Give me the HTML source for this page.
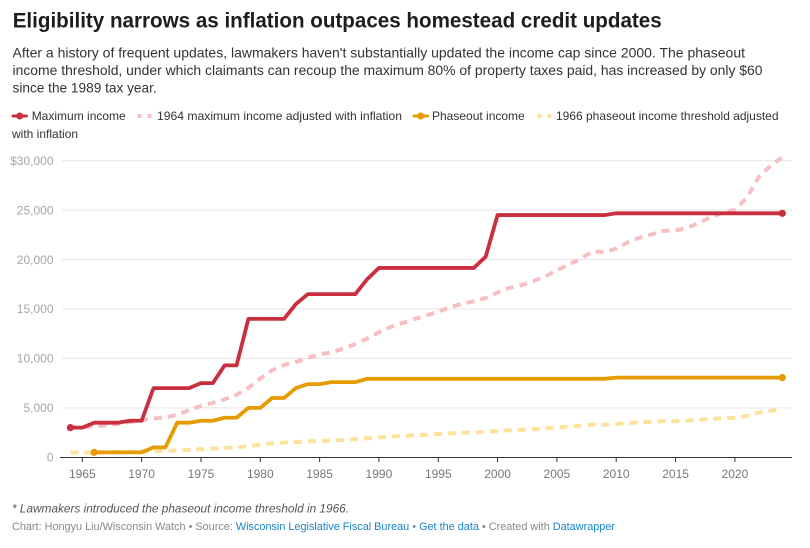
<!DOCTYPE html>
<html>
<head>
<meta charset="utf-8">
<style>
  html,body{margin:0;padding:0;background:#fff;}
  svg{display:block;}
  text{font-family:"Liberation Sans", Arial, sans-serif;}
</style>
</head>
<body>
<svg width="810" height="548" viewBox="0 0 810 548" xmlns="http://www.w3.org/2000/svg">
  <rect x="0" y="0" width="810" height="548" fill="#ffffff"/>

  <!-- Title -->
  <text x="12.7" y="27.3" font-size="21" font-weight="bold" fill="#1d1d1d" textLength="649" lengthAdjust="spacingAndGlyphs">Eligibility narrows as inflation outpaces homestead credit updates</text>

  <!-- Subtitle -->
  <text x="12.5" y="57.3" font-size="14" fill="#333" textLength="732.5" lengthAdjust="spacingAndGlyphs">After a history of frequent updates, lawmakers haven't substantially updated the income cap since 2000. The phaseout</text>
  <text x="12.5" y="74.8" font-size="14" fill="#333" textLength="750" lengthAdjust="spacingAndGlyphs">income threshold, under which claimants can recoup the maximum 80% of property taxes paid, has increased by only $60</text>
  <text x="12.5" y="92.3" font-size="14" fill="#333" textLength="144.2" lengthAdjust="spacingAndGlyphs">since the 1989 tax year.</text>

  <!-- Legend -->
  <line x1="13" y1="116" x2="26.5" y2="116" stroke="#c92f3e" stroke-width="3" stroke-linecap="round"/>
  <circle cx="19.7" cy="116" r="3.5" fill="#c92f3e"/>
  <text x="31.7" y="120.2" font-size="12" fill="#333">Maximum income</text>

  <line x1="137.5" y1="116" x2="152" y2="116" stroke="#f8bfc2" stroke-width="4" stroke-dasharray="4 6"/>
  <text x="157" y="120.2" font-size="12" fill="#333" textLength="245" lengthAdjust="spacingAndGlyphs">1964 maximum income adjusted with inflation</text>

  <line x1="414" y1="116" x2="427.5" y2="116" stroke="#e69c00" stroke-width="3" stroke-linecap="round"/>
  <circle cx="420.7" cy="116" r="3.5" fill="#e69c00"/>
  <text x="432" y="120.2" font-size="12" fill="#333">Phaseout income</text>

  <line x1="537.5" y1="116" x2="552" y2="116" stroke="#fde29c" stroke-width="4" stroke-dasharray="4 6"/>
  <text x="556" y="120.2" font-size="12" fill="#333" textLength="222.5" lengthAdjust="spacingAndGlyphs">1966 phaseout income threshold adjusted</text>
  <text x="12" y="138.2" font-size="12" fill="#333">with inflation</text>

  <!-- Gridlines -->
  <g stroke="#e5e5e5" stroke-width="1">
    <line x1="62" y1="160.7" x2="792" y2="160.7"/>
    <line x1="62" y1="210.1" x2="792" y2="210.1"/>
    <line x1="62" y1="259.6" x2="792" y2="259.6"/>
    <line x1="62" y1="309.0" x2="792" y2="309.0"/>
    <line x1="62" y1="358.4" x2="792" y2="358.4"/>
    <line x1="62" y1="407.9" x2="792" y2="407.9"/>
  </g>

  <!-- Y labels -->
  <g font-size="12" fill="#a6a6a6" text-anchor="end">
    <text x="53.5" y="164.9">$30,000</text>
    <text x="53.5" y="214.3">25,000</text>
    <text x="53.5" y="263.8">20,000</text>
    <text x="53.5" y="313.2">15,000</text>
    <text x="53.5" y="362.6">10,000</text>
    <text x="53.5" y="412.1">5,000</text>
    <text x="53.5" y="461.5">0</text>
  </g>

  <!-- Axis -->
  <line x1="60" y1="457.5" x2="792" y2="457.5" stroke="#333" stroke-width="1"/>
  <g stroke="#333" stroke-width="1">
    <line x1="82.3" y1="457.5" x2="82.3" y2="462"/>
    <line x1="141.6" y1="457.5" x2="141.6" y2="462"/>
    <line x1="201.0" y1="457.5" x2="201.0" y2="462"/>
    <line x1="260.3" y1="457.5" x2="260.3" y2="462"/>
    <line x1="319.6" y1="457.5" x2="319.6" y2="462"/>
    <line x1="378.9" y1="457.5" x2="378.9" y2="462"/>
    <line x1="438.3" y1="457.5" x2="438.3" y2="462"/>
    <line x1="497.6" y1="457.5" x2="497.6" y2="462"/>
    <line x1="556.9" y1="457.5" x2="556.9" y2="462"/>
    <line x1="616.2" y1="457.5" x2="616.2" y2="462"/>
    <line x1="675.6" y1="457.5" x2="675.6" y2="462"/>
    <line x1="734.9" y1="457.5" x2="734.9" y2="462"/>
  </g>
  <g font-size="12" fill="#777" text-anchor="middle">
    <text x="82.3" y="478">1965</text>
    <text x="141.6" y="478">1970</text>
    <text x="201.0" y="478">1975</text>
    <text x="260.3" y="478">1980</text>
    <text x="319.6" y="478">1985</text>
    <text x="378.9" y="478">1990</text>
    <text x="438.3" y="478">1995</text>
    <text x="497.6" y="478">2000</text>
    <text x="556.9" y="478">2005</text>
    <text x="616.2" y="478">2010</text>
    <text x="675.6" y="478">2015</text>
    <text x="734.9" y="478">2020</text>
  </g>

  <!-- Yellow dashed: 1966 phaseout adjusted -->
  <polyline fill="none" stroke="#fde29c" stroke-width="4" stroke-dasharray="8 6" stroke-linejoin="round"
    points="70.44,452.57 82.30,452.49 94.17,452.36 106.03,452.20 117.90,451.99 129.76,451.70 141.63,451.38 153.49,451.12 165.36,450.92 177.22,450.53 189.09,449.78 200.95,449.09 212.82,448.62 224.68,448.05 236.55,447.35 248.41,446.22 260.28,444.73 272.14,443.43 284.01,442.58 295.87,442.10 307.74,441.45 319.60,440.88 331.47,440.58 343.33,439.97 355.20,439.25 367.06,438.38 378.93,437.36 390.79,436.52 402.66,435.89 414.52,435.25 426.39,434.69 438.25,434.05 450.12,433.36 461.98,432.81 473.85,432.43 485.71,431.88 497.58,431.03 509.44,430.28 521.31,429.85 533.17,429.23 545.04,428.48 556.90,427.50 568.77,426.54 580.63,425.67 592.50,424.45 604.36,424.57 616.23,424.02 628.09,422.99 639.96,422.27 651.82,421.75 663.69,421.18 675.55,421.14 687.42,420.68 699.28,419.90 711.15,418.99 723.01,418.29 734.88,417.81 746.74,415.95 758.61,412.64 770.47,410.81 782.34,409.44"/>

  <!-- Pink dashed: 1964 max adjusted -->
  <polyline fill="none" stroke="#f8bfc2" stroke-width="4" stroke-dasharray="8 6" stroke-linejoin="round"
    points="70.44,427.64 82.30,427.16 94.17,426.30 106.03,425.35 117.90,424.00 129.76,422.18 141.63,420.17 153.49,418.55 165.36,417.31 177.22,414.82 189.09,410.13 200.95,405.83 212.82,402.86 224.68,399.31 236.55,394.91 248.41,387.83 260.28,378.46 272.14,370.32 284.01,364.96 295.87,362.00 307.74,357.89 319.60,354.35 331.47,352.44 343.33,348.60 355.20,344.11 367.06,338.66 378.93,332.25 390.79,326.98 402.66,323.06 414.52,319.04 426.39,315.50 438.25,311.49 450.12,307.18 461.98,303.74 473.85,301.34 485.71,297.89 497.58,292.53 509.44,287.85 521.31,285.17 533.17,281.25 545.04,276.56 556.90,270.44 568.77,264.40 580.63,258.96 592.50,251.30 604.36,252.07 616.23,248.63 628.09,242.11 639.96,237.62 651.82,234.37 663.69,230.83 675.55,230.54 687.42,227.66 699.28,222.79 711.15,217.05 723.01,212.65 734.88,209.68 746.74,198.00 758.61,177.24 770.47,165.76 782.34,157.15"/>

  <!-- Orange: Phaseout income -->
  <polyline fill="none" stroke="#e69c00" stroke-width="3.8" stroke-linejoin="round"
    points="94.17,452.36 141.63,452.36 153.49,447.41 165.36,447.41 177.22,422.70 189.09,422.70 200.95,420.72 212.82,420.72 224.68,417.75 236.55,417.75 248.41,407.87 260.28,407.87 272.14,397.98 284.01,397.98 295.87,388.09 307.74,384.14 319.60,384.14 331.47,382.16 355.20,382.16 367.06,378.80 604.36,378.80 616.23,377.61 782.34,377.61"/>
  <circle cx="94.17" cy="452.36" r="3.6" fill="#e69c00"/>
  <circle cx="782.34" cy="377.61" r="3.6" fill="#e69c00"/>

  <!-- Red: Maximum income -->
  <polyline fill="none" stroke="#c92f3e" stroke-width="3.8" stroke-linejoin="round"
    points="70.44,427.64 82.30,427.64 94.17,422.70 117.90,422.70 129.76,420.72 141.63,420.72 153.49,388.09 189.09,388.09 200.95,383.15 212.82,383.15 224.68,365.35 236.55,365.35 248.41,318.88 284.01,318.88 295.87,304.05 307.74,294.16 355.20,294.16 367.06,279.33 378.93,267.92 473.85,267.92 485.71,256.69 497.58,215.07 604.36,215.07 616.23,213.29 782.34,213.29"/>
  <circle cx="70.44" cy="427.64" r="3.6" fill="#c92f3e"/>
  <circle cx="782.34" cy="213.29" r="3.6" fill="#c92f3e"/>

  <!-- Footer -->
  <text x="12" y="512.3" font-size="12" font-style="italic" fill="#555" textLength="337" lengthAdjust="spacingAndGlyphs">* Lawmakers introduced the phaseout income threshold in 1966.</text>
  <text x="12" y="530" font-size="11" fill="#888" textLength="603" lengthAdjust="spacingAndGlyphs">Chart: Hongyu Liu/Wisconsin Watch • Source: <tspan fill="#1a84c6">Wisconsin Legislative Fiscal Bureau</tspan> • <tspan fill="#1a84c6">Get the data</tspan> • Created with <tspan fill="#1a84c6">Datawrapper</tspan></text>
</svg>
</body>
</html>
